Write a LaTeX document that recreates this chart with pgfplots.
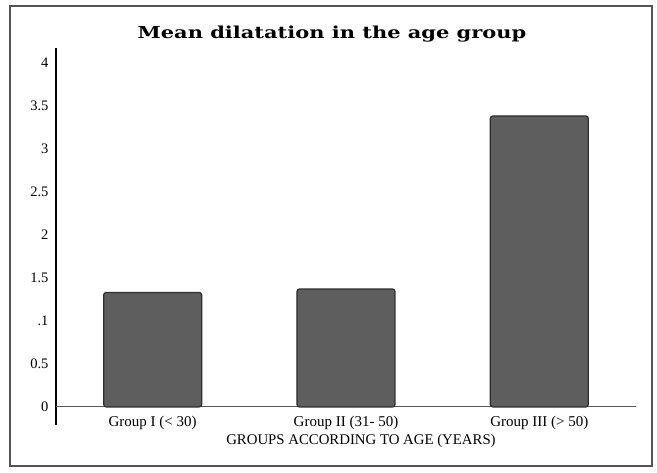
\documentclass[border=0pt]{standalone}
\usepackage{pgfplots}
\pgfplotsset{compat=1.18}
\usepackage{fontspec}
\setmainfont{Liberation Serif}
\newfontfamily\titlefont[FakeStretch=1.27]{DejaVu Serif Bold}

\definecolor{barface}{HTML}{5E5E5E}
\definecolor{baredge}{HTML}{2E2E2E}
\definecolor{framegray}{HTML}{555555}

\pgfplotstableread{
x  mean
0  1.33
1  1.37
2  3.38
}\dilatation

\begin{document}
\begin{tikzpicture}[x=1pt,y=1pt]
  % page frame
  \path[use as bounding box] (0,0) rectangle (657,472);
  \draw[framegray, line width=1.2pt] (10,6) rectangle (652,466);

  \begin{axis}[
      at={(56pt,47pt)}, anchor=south west,
      scale only axis,
      width=580pt, height=377pt,
      xmin=-0.5, xmax=2.5,
      ymin=-0.21, ymax=4.17,
      axis x line=none,
      axis y line*=left,
      y axis line style={line width=2.7pt, black, -},
      ytick={0,0.5,1,1.5,2,2.5,3,3.5,4},
      yticklabels={0,0.5,.1,1.5,2,2.5,3,3.5,4},
      major tick length=0pt,
      yticklabel style={font=\fontsize{14.5}{16}\selectfont, anchor=east, xshift=-4pt},
      xtick=\empty,
      clip=false,
    ]
    % baseline at zero
    \draw[gray!70!black, line width=1pt] (axis cs:-0.5,0) -- (axis cs:2.5,0);

    \addplot[ybar, bar width=98pt, draw=baredge, line width=1.2pt,
             rounded corners=2.5pt, fill=barface]
      table[x=x, y=mean] {\dilatation};

    % category labels below the baseline
    \node[font=\fontsize{15}{17}\selectfont] at (axis cs:0,-0.18) {Group I (< 30)};
    \node[font=\fontsize{15}{17}\selectfont] at (axis cs:1,-0.18) {Group II (31- 50)};
    \node[font=\fontsize{15}{17}\selectfont] at (axis cs:2,-0.18) {Group III (> 50)};
  \end{axis}

  \node[font=\fontsize{14.8}{17}\selectfont] at (361,31) {GROUPS ACCORDING TO AGE (YEARS)};
  \node[font=\titlefont\fontsize{16.5}{19}\selectfont] at (332,438) {Mean dilatation in the age group};
\end{tikzpicture}
\end{document}
